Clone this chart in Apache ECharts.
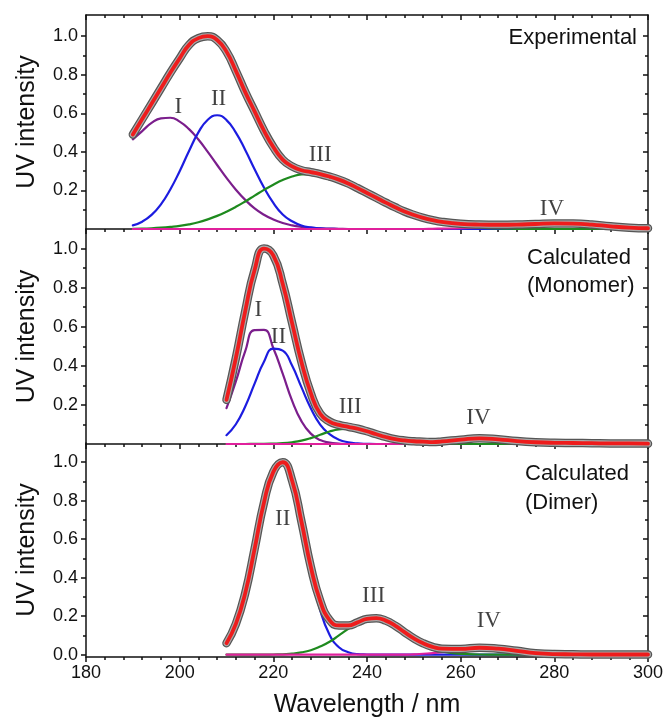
<!DOCTYPE html>
<html>
<head>
<meta charset="utf-8">
<title>UV spectra - deconvolution</title>
<script src="https://cdn.jsdelivr.net/npm/echarts@6/dist/echarts.min.js"></script>
<style>
html, body { margin: 0; padding: 0; background: #fff; }
#main { width: 670px; height: 727px; }
</style>
</head>
<body>
<div id="main"></div>
<script type="text/javascript">
// wavelengths (nm)
var wlExp = [190,192,194,196,198,200,202,204,206,208,210,212,214,216,218,220,222,224,226,228,230,232,234,236,238,240,242,244,246,248,250,252,254,256,260,264,268,272,276,280,284,288,292,296,300];
var wlCalc = [210,212,214,216,218,220,222,224,226,228,230,232,234,236,238,240,242,244,246,248,250,252,254,256,260,264,268,272,276,280,284,288,292,296,300];

// experimental spectrum + bands I-IV
var expTotal = [0.49,0.57,0.65,0.73,0.81,0.885,0.955,0.99,1.0,0.98,
  0.92,0.82,0.71,0.61,0.51,0.425,0.36,0.325,0.305,0.295,
  0.285,0.272,0.256,0.236,0.212,0.187,0.162,0.137,0.113,0.091,
  0.073,0.058,0.046,0.037,
  0.027,0.023,0.022,0.023,0.026,0.029,0.028,0.023,0.014,0.007,0.004];
var expI = [0.465,0.508,0.55,0.574,0.577,0.557,0.518,0.464,0.4,0.332,
  0.265,0.204,0.151,0.107,0.074,0.049,0.031,0.019,0.011,0.006,
  0.003,0.002,0.001,0,0,0,0,0,0,0,
  0,0,0,0,
  0,0,0,0,0,0,0,0,0,0,0];
var expII = [0.019,0.038,0.073,0.128,0.205,0.3,0.405,0.501,0.567,0.59,
  0.565,0.5,0.41,0.31,0.215,0.135,0.075,0.04,0.018,0.008,
  0.003,0.001,0,0,0,0,0,0,0,0,
  0,0,0,0,
  0,0,0,0,0,0,0,0,0,0,0];
var expIII = [0.001,0.002,0.004,0.007,0.011,0.016,0.024,0.035,0.05,0.068,
  0.09,0.115,0.143,0.173,0.203,0.23,0.254,0.272,0.283,0.285,
  0.279,0.268,0.252,0.232,0.208,0.183,0.157,0.131,0.106,0.084,
  0.065,0.049,0.036,0.026,
  0.014,0.007,0.003,0.001,0,0,0,0,0,0,0];
var expIV = [0,0,0,0,0,0,0,0,0,0,
  0,0,0,0,0,0,0,0,0,0,
  0,0,0,0,0,0,0,0,0,0,
  0,0,0.001,0.002,
  0.004,0.008,0.013,0.019,0.024,0.027,0.026,0.021,0.013,0.006,0.003];

// calculated, monomer
var monoTotal = [0.226,0.44,0.68,0.89,1.0,0.965,0.82,0.62,0.42,0.26,
  0.155,0.115,0.098,0.088,0.078,0.065,0.05,0.036,0.025,0.018,
  0.014,0.012,0.01,0.013,
  0.022,0.029,0.024,0.015,0.009,0.006,0.005,0.004,0.003,0.003,0.002];
var monoI = [0.183,0.32,0.475,0.583,0.584,0.49,0.36,0.222,0.117,0.053,
  0.02,0.007,0.002,0,0,0,0,0,0,0,
  0,0,0,0,
  0,0,0,0,0,0,0,0,0,0,0];
var monoII = [0.045,0.101,0.192,0.309,0.421,0.488,0.478,0.401,0.291,0.183,
  0.099,0.05,0.022,0.009,0.003,0.001,0,0,0,0,
  0,0,0,0,
  0,0,0,0,0,0,0,0,0,0,0];
var monoIII = [0,0,0,0.001,0.001,0.002,0.004,0.009,0.017,0.03,
  0.047,0.064,0.075,0.078,0.073,0.061,0.047,0.033,0.021,0.012,
  0.006,0.003,0.001,0,
  0,0,0,0,0,0,0,0,0,0,0];
var monoIV = [0,0,0,0,0,0,0,0,0,0,
  0,0,0,0,0,0,0,0,0,0.001,
  0.002,0.004,0.007,0.011,
  0.02,0.026,0.021,0.011,0.004,0.001,0,0,0,0,0];

// calculated, dimer
var dimTotal = [0.06,0.16,0.32,0.55,0.79,0.95,1.0,0.905,0.692,0.457,
  0.28,0.18,0.152,0.152,0.168,0.186,0.19,0.177,0.151,0.117,
  0.085,0.059,0.041,0.031,
  0.03,0.036,0.031,0.02,0.008,0.003,0.002,0.001,0.001,0.001,0.001];
var dimII = [0.06,0.16,0.32,0.55,0.79,0.95,1.0,0.9,0.68,0.434,
  0.232,0.104,0.039,0.013,0.003,0.001,0,0,0,0,
  0,0,0,0,
  0,0,0,0,0,0,0,0,0,0,0];
var dimIII = [0,0,0,0,0,0.001,0.002,0.006,0.012,0.023,
  0.042,0.067,0.1,0.134,0.165,0.185,0.19,0.177,0.151,0.117,
  0.083,0.054,0.032,0.017,
  0.004,0.001,0,0,0,0,0,0,0,0,0];
var dimIV = [0,0,0,0,0,0,0,0,0,0,
  0,0,0,0,0,0,0,0,0,0,
  0.002,0.005,0.008,0.013,
  0.026,0.035,0.031,0.02,0.008,0.002,0.001,0,0,0,0];

// band labels [wavelength, intensity, text]
var labelsExp = [[199.7,0.633,'I'],[208.3,0.676,'II'],[230.0,0.382,'III'],[279.5,0.105,'IV']];
var labelsMono = [[216.8,0.687,'I'],[221.1,0.55,'II'],[236.4,0.191,'III'],[263.8,0.135,'IV']];
var labelsDim = [[222.0,0.703,'II'],[241.4,0.304,'III'],[266.0,0.173,'IV']];

var yMajor = [0.2,0.4,0.6,0.8,1.0];
var yMajor0 = [0,0.2,0.4,0.6,0.8,1.0];
var yMinor = [0.1,0.3,0.5,0.7,0.9];

var cI = '#7b1e8c', cII = '#1c1ce0', cIII = '#1e8a1e', cIV = '#e0209c';
var sans = 'Liberation Sans, Arial, sans-serif';
var axisCol = '#111';

function pairs(xs, ys) {
  return xs.map(function (x, i) { return [x, ys[i]]; });
}

function curve(p, xs, ys, color, width, z) {
  return {
    type: 'line', xAxisIndex: p, yAxisIndex: 4 * p,
    data: pairs(xs, ys), symbol: 'none', showSymbol: false,
    smooth: 0.5, silent: true, z: z,
    lineStyle: { color: color, width: width, cap: 'round', join: 'round' }
  };
}

function labels(p, list) {
  return {
    type: 'scatter', xAxisIndex: p, yAxisIndex: 4 * p, symbolSize: 1, z: 8,
    itemStyle: { color: 'transparent' }, silent: true,
    data: list.map(function (l) { return { value: [l[0], l[1]], name: l[2] }; }),
    label: { show: true, position: 'inside', formatter: '{b}', color: '#111',
      fontFamily: 'Liberation Serif, Times New Roman, serif', fontSize: 23 }
  };
}

function yAxes(p, min, max, majors) {
  var line = { color: axisCol, width: 1.5 };
  return [
    { gridIndex: p, type: 'value', position: 'left', min: min, max: max,
      axisLine: { show: true, onZero: false, lineStyle: line },
      axisTick: { show: true, customValues: majors, length: 5, lineStyle: line },
      axisLabel: { show: true, customValues: majors, margin: 8, fontSize: 18, color: axisCol, fontFamily: sans,
        formatter: function (v) { return v.toFixed(1); } },
      splitLine: { show: false },
      name: 'UV intensity', nameLocation: 'middle', nameGap: 46,
      nameTextStyle: { fontSize: 25, color: axisCol, fontFamily: sans } },
    { gridIndex: p, type: 'value', position: 'left', min: min, max: max,
      axisLine: { show: false },
      axisTick: { show: true, customValues: yMinor, length: 3, lineStyle: line },
      axisLabel: { show: false }, splitLine: { show: false } },
    { gridIndex: p, type: 'value', position: 'right', min: min, max: max,
      axisLine: { show: true, onZero: false, lineStyle: line },
      axisTick: { show: true, inside: true, customValues: majors, length: 5, lineStyle: line },
      axisLabel: { show: false }, splitLine: { show: false } },
    { gridIndex: p, type: 'value', position: 'right', min: min, max: max,
      axisLine: { show: false },
      axisTick: { show: true, inside: true, customValues: yMinor, length: 3, lineStyle: line },
      axisLabel: { show: false }, splitLine: { show: false } }
  ];
}

function xAxis(p, pos, inside, showLabel) {
  var line = { color: axisCol, width: 1.5 };
  var ax = {
    gridIndex: p, type: 'value', position: pos, min: 180, max: 300, interval: 20,
    axisLine: { show: true, onZero: false, lineStyle: line },
    axisTick: { show: true, inside: inside, length: 5, lineStyle: line },
    minorTick: { show: true, splitNumber: 5, length: 3, lineStyle: line },
    axisLabel: { show: showLabel, margin: 7, fontSize: 18, color: axisCol, fontFamily: sans },
    splitLine: { show: false }
  };
  if (showLabel) {
    ax.name = 'Wavelength / nm';
    ax.nameLocation = 'middle';
    ax.nameGap = 36;
    ax.nameTextStyle = { fontSize: 25, color: axisCol, fontFamily: sans };
  }
  return ax;
}

var dom = document.getElementById('main');
var myChart = echarts.init(dom, null, { renderer: 'canvas' });

var option = {
  animation: false,
  backgroundColor: '#fff',
  grid: [
    { left: 86, right: 22, top: 15, height: 214 },
    { left: 86, right: 22, top: 229, height: 215 },
    { left: 86, right: 22, top: 443, height: 214 }
  ],
  xAxis: [
    xAxis(0, 'bottom', false, false),
    xAxis(1, 'bottom', false, false),
    xAxis(2, 'bottom', false, true),
    xAxis(0, 'top', true, false)
  ],
  yAxis: [].concat(
    yAxes(0, 0, 1.11, yMajor),
    yAxes(1, 0, 1.1, yMajor),
    yAxes(2, -0.012, 1.1, yMajor0)
  ),
  series: [
    // experimental
    curve(0, wlExp, expI, cI, 2.2, 3),
    curve(0, wlExp, expII, cII, 2.2, 3),
    curve(0, wlExp, expIII, cIII, 2.2, 3),
    curve(0, wlExp, expIV, cIV, 2.2, 3),
    curve(0, wlExp, expTotal, '#555', 8.5, 4),
    curve(0, wlExp, expTotal, '#ababab', 6, 4),
    curve(0, wlExp, expTotal, '#ee1c1c', 3.8, 5),
    labels(0, labelsExp),
    // monomer
    curve(1, wlCalc, monoI, cI, 2.2, 3),
    curve(1, wlCalc, monoII, cII, 2.2, 3),
    curve(1, wlCalc, monoIII, cIII, 2.2, 3),
    curve(1, wlCalc, monoIV, cIV, 2.2, 3),
    curve(1, wlCalc, monoTotal, '#555', 8.5, 4),
    curve(1, wlCalc, monoTotal, '#ababab', 6, 4),
    curve(1, wlCalc, monoTotal, '#ee1c1c', 3.8, 5),
    labels(1, labelsMono),
    // dimer
    curve(2, wlCalc, dimII, cII, 2.2, 3),
    curve(2, wlCalc, dimIII, cIII, 2.2, 3),
    curve(2, wlCalc, dimIV, cIV, 2.2, 3),
    curve(2, wlCalc, dimTotal, '#555', 8.5, 4),
    curve(2, wlCalc, dimTotal, '#ababab', 6, 4),
    curve(2, wlCalc, dimTotal, '#ee1c1c', 3.8, 5),
    labels(2, labelsDim)
  ],
  graphic: [
    { type: 'text', x: 637, y: 38, z: 10,
      style: { text: 'Experimental', align: 'right', textAlign: 'right', verticalAlign: 'middle', textVerticalAlign: 'middle',
        fontSize: 22, fontFamily: sans, fill: axisCol } },
    { type: 'text', x: 527, y: 244, z: 10,
      style: { text: 'Calculated\n(Monomer)', align: 'left', verticalAlign: 'top', lineHeight: 28,
        fontSize: 22, fontFamily: sans, fill: axisCol } },
    { type: 'text', x: 525, y: 459, z: 10,
      style: { text: 'Calculated\n(Dimer)', align: 'left', verticalAlign: 'top', lineHeight: 29,
        fontSize: 22, fontFamily: sans, fill: axisCol } }
  ]
};

if (option && typeof option === 'object') {
  myChart.setOption(option, true);
}
</script>
</body>
</html>
